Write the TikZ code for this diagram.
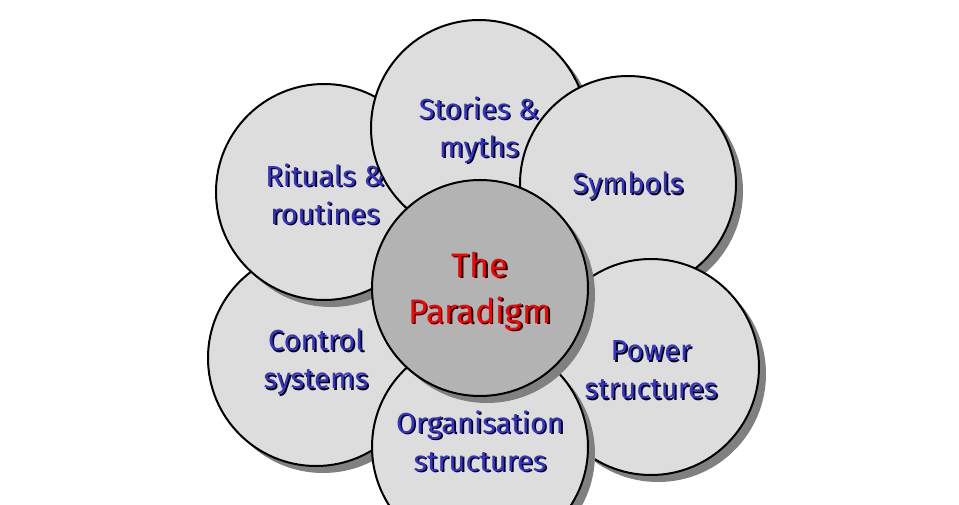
\documentclass[tikz,border=0pt]{standalone}
\usepackage{fontspec}
\setmainfont{Fira Sans}
\usetikzlibrary{calc}
\definecolor{petalc}{HTML}{DDDDDD}
\definecolor{corec}{HTML}{B3B3B3}
\definecolor{shadec}{HTML}{808080}
\definecolor{lblue}{HTML}{3333CC}
\definecolor{lred}{HTML}{FF0000}
\tikzset{
  petal/.style={circle, draw=black, line width=2pt, fill=petalc, minimum size=216pt, inner sep=0pt},
  core/.style={petal, fill=corec},
  shadowdisc/.style={circle, fill=shadec, minimum size=216pt, inner sep=0pt},
  lbl/.style={align=center, font=\fontsize{29}{38}\selectfont, inner sep=0pt},
  corelbl/.style={align=center, font=\fontsize{34}{46}\selectfont, inner sep=0pt}
}
\newcommand{\petal}[3]{%
  \node[shadowdisc] at ([shift={(7,7)}]#2) {};
  \node[#3] (#1) at (#2) {};}
\newcommand{\dtext}[6]{%
  \node[#6, text=black] at ($(#1)+(#2)+(1.6,1.6)$) {#5};
  \node[#6, text=#3] (#4) at ($(#1)+(#2)$) {#5};}
\begin{document}
\begin{tikzpicture}[x=1pt,y=-1pt]
\useasboundingbox (0,0) rectangle (959,504);
\clip (0,0) rectangle (959,504);
\fill[white] (0,0) rectangle (959,504);
\petal{control}{316,358}{petal}
\petal{rituals}{324,192}{petal}
\petal{stories}{479,128}{petal}
\petal{symbols}{628,184}{petal}
\petal{power}{651,367}{petal}
\petal{organisation}{480,447}{petal}
\petal{paradigm}{480,288}{core}
\dtext{stories}{0,2}{lblue}{storiesT}{Stories \&\\myths}{lbl}
\dtext{rituals}{1,2}{lblue}{ritualsT}{Rituals \&\\routines}{lbl}
\dtext{symbols}{0,2}{lblue}{symbolsT}{Symbols}{lbl}
\dtext{control}{0,4}{lblue}{controlT}{Control\\systems}{lbl}
\dtext{power}{0,3}{lblue}{powerT}{Power\\structures}{lbl}
\dtext{organisation}{0,-6}{lblue}{organisationT}{Organisation\\structures}{lbl}
\dtext{paradigm}{0,3}{lred}{paradigmT}{The\\Paradigm}{corelbl}
\end{tikzpicture}
\end{document}
